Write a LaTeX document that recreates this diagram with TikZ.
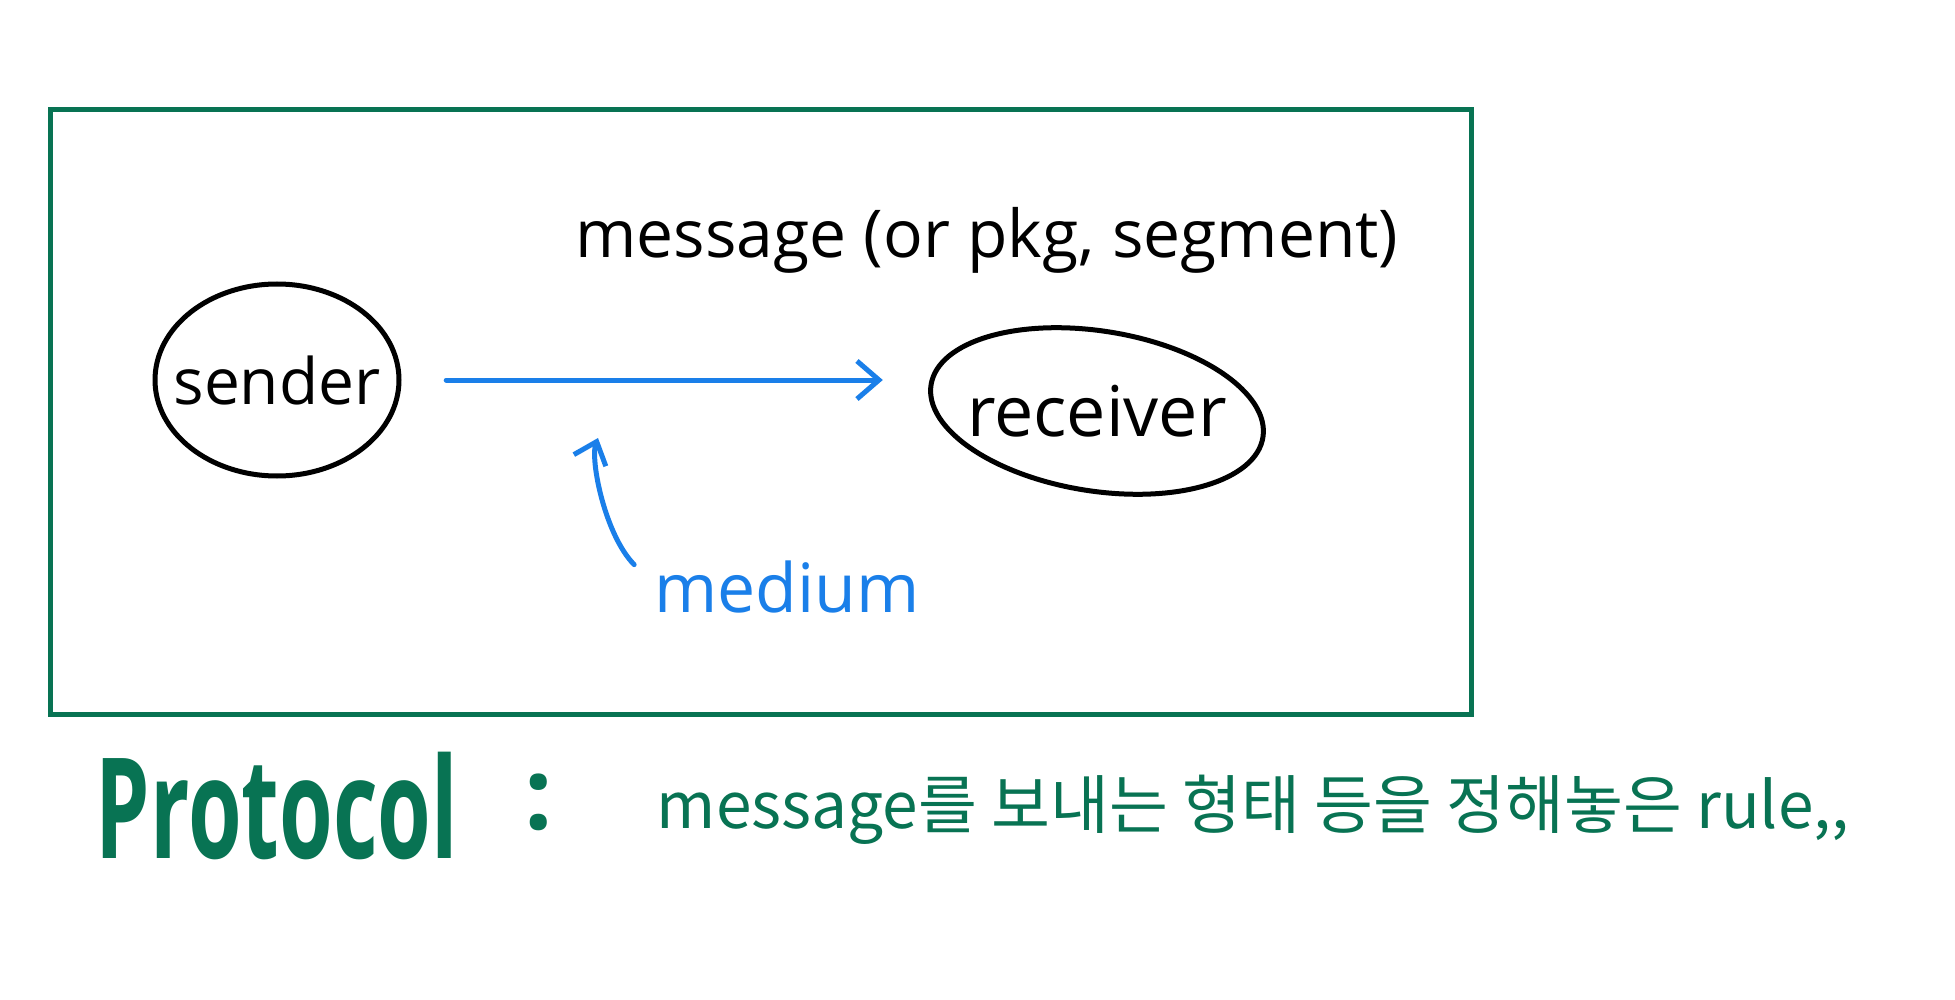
\documentclass[tikz,border=0pt]{standalone}
\usepackage{fontspec}
\setmainfont{Open Sans}
\newfontfamily\krfont{Noto Sans CJK KR}
\usetikzlibrary{shapes.geometric,arrows.meta}
\definecolor{pgreen}{HTML}{087353}
\definecolor{pblue}{HTML}{1A7FE9}
\begin{document}
\begin{tikzpicture}[x=1pt,y=-1pt,
  hand/.style={font=\fontsize{64}{70}\selectfont, inner sep=0pt},
  ink/.style={line width=5pt, black},
  flow/.style={line width=5pt, pblue, line cap=round, -{Straight Barb[length=22pt,width=38pt,line width=5pt]}},
  frame/.style={draw=pgreen, line width=5pt, inner sep=0pt}]
\useasboundingbox[fill=white] (0,0) rectangle (1955,1000);
% frame
\node[frame, minimum width=1421pt, minimum height=604pt] (box) at (760.5,412) {};
% sender
\node[hand, font=\fontsize{64}{70}\selectfont, minimum width=244pt, minimum height=192pt] (sender) at (277,380) {sender};
\draw[ink] (sender.center) ellipse [x radius=122, y radius=96];
% receiver
\node[hand, font=\fontsize{70}{76}\selectfont, minimum width=336pt, minimum height=160pt] (receiver) at (1097,411) {receiver};
\draw[ink, rotate around={-9:(receiver.center)}] (receiver.center) ellipse [x radius=168, y radius=80];
% message label
\node[hand, font=\fontsize{66}{72}\selectfont] (msg) at (987,240) {message (or pkg, segment)};
% main arrow
\draw[flow, shorten <=47pt, shorten >=46pt] (sender.east) -- (sender.east -| receiver.west);
% medium
\node[hand, text=pblue, font=\fontsize{68}{74}\selectfont] (medium) at (787,587) {medium};
\coordinate (mtip) at (598,438);
\draw[line width=5pt, pblue, line cap=round, -{Straight Barb[length=20pt,width=34pt,line width=5pt]}]
  ([shift={(-20,4)}]medium.north west) .. controls (605,535) and (590,460) .. (mtip);
% bottom line
\node[inner sep=0pt, text=pgreen, font=\fontsize{140}{146}\selectfont\bfseries] (protocol) at (277,806) {\scalebox{0.62}[1]{Protocol}};
\node[inner sep=0pt, text=pgreen, font=\fontsize{100}{110}\selectfont\bfseries] (colon) at (539,802) {:};
\node[inner sep=0pt, text=pgreen, font=\krfont\fontsize{64}{70}\selectfont] (rule) at (1253,810) {message를 보내는 형태 등을 정해놓은 rule,,};
\end{tikzpicture}
\end{document}
